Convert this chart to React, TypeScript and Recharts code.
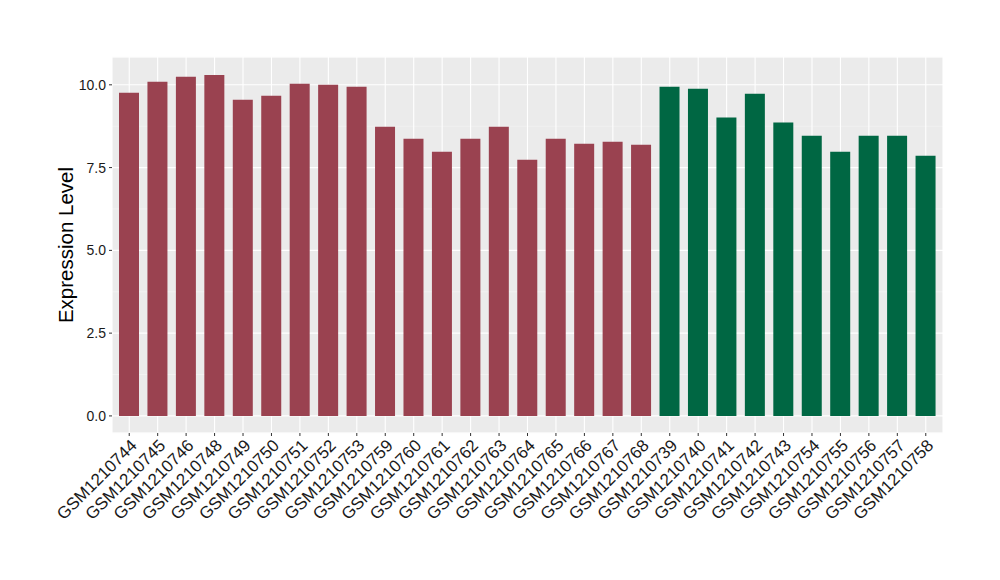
import { Bar, BarChart, CartesianGrid, Cell, XAxis, YAxis } from "recharts";

const samples = [
  "GSM1210744", "GSM1210745", "GSM1210746", "GSM1210748", "GSM1210749",
  "GSM1210750", "GSM1210751", "GSM1210752", "GSM1210753", "GSM1210759",
  "GSM1210760", "GSM1210761", "GSM1210762", "GSM1210763", "GSM1210764",
  "GSM1210765", "GSM1210766", "GSM1210767", "GSM1210768", "GSM1210739",
  "GSM1210740", "GSM1210741", "GSM1210742", "GSM1210743", "GSM1210754",
  "GSM1210755", "GSM1210756", "GSM1210757", "GSM1210758",
];

const expression = [
  9.76, 10.09, 10.24, 10.3, 9.55, 9.67, 10.03, 10.0, 9.94, 8.73,
  8.37, 7.98, 8.37, 8.73, 7.74, 8.37, 8.22, 8.28, 8.19, 9.94,
  9.88, 9.01, 9.73, 8.86, 8.46, 7.98, 8.46, 8.46, 7.86,
];

const groups = [
  "a", "a", "a", "a", "a", "a", "a", "a", "a", "a",
  "a", "a", "a", "a", "a", "a", "a", "a", "a", "b",
  "b", "b", "b", "b", "b", "b", "b", "b", "b",
];

const majorTicks = [0, 2.5, 5, 7.5, 10];
const minorTicks = [1.25, 3.75, 6.25, 8.75];

const GROUP_COLORS: Record<string, string> = {
  a: "#9a4250",
  b: "#006743",
};

const data = samples.map((name, i) => ({
  name,
  value: expression[i],
  group: groups[i],
}));

const font = '"Liberation Sans", Arial, Helvetica, sans-serif';

function SampleTick(props: any) {
  const { x, y, payload } = props;
  return (
    <text
      transform={`translate(${x},${y}) rotate(-45)`}
      textAnchor="end"
      dy="0.72em"
      fontSize={17}
      fontFamily={font}
      fill="#1a1a1a"
    >
      {payload.value}
    </text>
  );
}

export default function App() {
  return (
    <div style={{ position: "absolute", left: 0, top: 0, background: "#fff" }}>
      <BarChart
        width={1000}
        height={580}
        data={data}
        margin={{ top: 57, right: 57, bottom: 0, left: 0 }}
        barSize={20}
      >
        <CartesianGrid
          yAxisId="minor"
          vertical={false}
          fill="#ebebeb"
          stroke="#f6f6f6"
          strokeWidth={0.6}
        />
        <CartesianGrid stroke="#ffffff" strokeWidth={1.1} />
        <XAxis
          dataKey="name"
          interval={0}
          height={147}
          padding={{ left: 3, right: 3 }}
          axisLine={false}
          tickSize={3}
          tickLine={{ stroke: "#333333" }}
          tick={<SampleTick />}
        />
        <YAxis
          width={112}
          domain={[-0.516, 10.84]}
          ticks={majorTicks}
          allowDataOverflow
          axisLine={false}
          tickSize={3}
          tickMargin={3}
          tickLine={{ stroke: "#333333" }}
          tickFormatter={(v: number) => v.toFixed(1)}
          tick={{ fill: "#1a1a1a", fontSize: 14, fontFamily: font }}
          label={{
            value: "Expression Level",
            angle: -90,
            position: "center",
            dx: 10,
            style: { fontSize: 20.5, fontFamily: font, fill: "#000" },
          }}
        />
        <YAxis
          yAxisId="minor"
          hide
          domain={[-0.516, 10.84]}
          ticks={minorTicks}
          allowDataOverflow
        />
        <Bar dataKey="value" isAnimationActive={false}>
          {data.map((d) => (
            <Cell key={d.name} fill={GROUP_COLORS[d.group]} />
          ))}
        </Bar>
      </BarChart>
    </div>
  );
}
